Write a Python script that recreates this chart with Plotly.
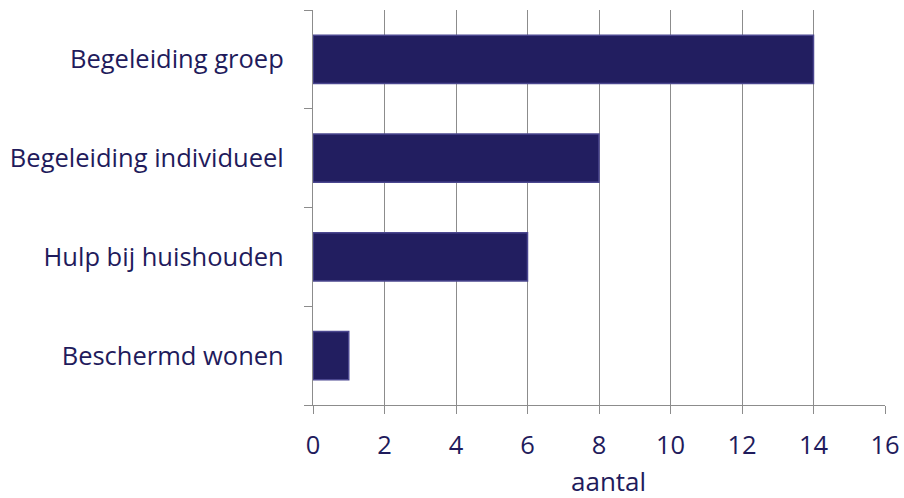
import plotly.graph_objects as go

categories = ["Beschermd wonen", "Hulp bij huishouden", "Begeleiding individueel", "Begeleiding groep"]
values = [1, 6, 8, 14]
x_ticks = [0, 2, 4, 6, 8, 10, 12, 14, 16]
x_title = "aantal"

text_color = "#1F1B5C"
font_family = "Open Sans, Noto Sans, sans-serif"

fig = go.Figure()
fig.add_trace(go.Bar(
    x=values, y=categories, orientation="h",
    marker=dict(color="#221E60", line=dict(color="#4B478F", width=1.5)),
    width=0.49,
    hoverinfo="x+y",
))

fig.update_layout(
    width=904, height=498,
    margin=dict(l=313, r=19, t=10, b=93),
    paper_bgcolor="white", plot_bgcolor="white",
    font=dict(family=font_family, color=text_color, size=25.5),
    showlegend=False,
    xaxis=dict(
        range=[0, 16], tickvals=x_ticks, ticktext=[str(v) for v in x_ticks],
        showgrid=True, gridcolor="#8C8C8C", gridwidth=1.3,
        showline=True, linecolor="#8C8C8C", linewidth=1.3,
        ticks="outside", ticklen=8, tickcolor="#8C8C8C", tickwidth=1.3,
        tickfont=dict(size=25.5, color=text_color),
        ticklabelstandoff=9,
        zeroline=False, fixedrange=True, automargin=False,
    ),
    yaxis=dict(
        categoryorder="array", categoryarray=categories,
        showline=True, linecolor="#8C8C8C", linewidth=1.3,
        ticks="outside", ticklen=8, tickcolor="#8C8C8C", tickwidth=1.3,
        tickson="boundaries",
        tickfont=dict(size=25.5, color=text_color),
        ticklabelstandoff=23,
        showgrid=False, fixedrange=True, automargin=False,
    ),
    annotations=[dict(
        text=x_title, xref="paper", yref="paper", x=0.5, y=0,
        xanchor="center", yanchor="middle", xshift=9, yshift=-76,
        showarrow=False, font=dict(size=26, color=text_color),
    )],
)

fig.write_html(
    "out.html",
    config={"displayModeBar": False},
    post_script="document.body.style.margin='0';document.body.style.overflow='hidden';",
)
